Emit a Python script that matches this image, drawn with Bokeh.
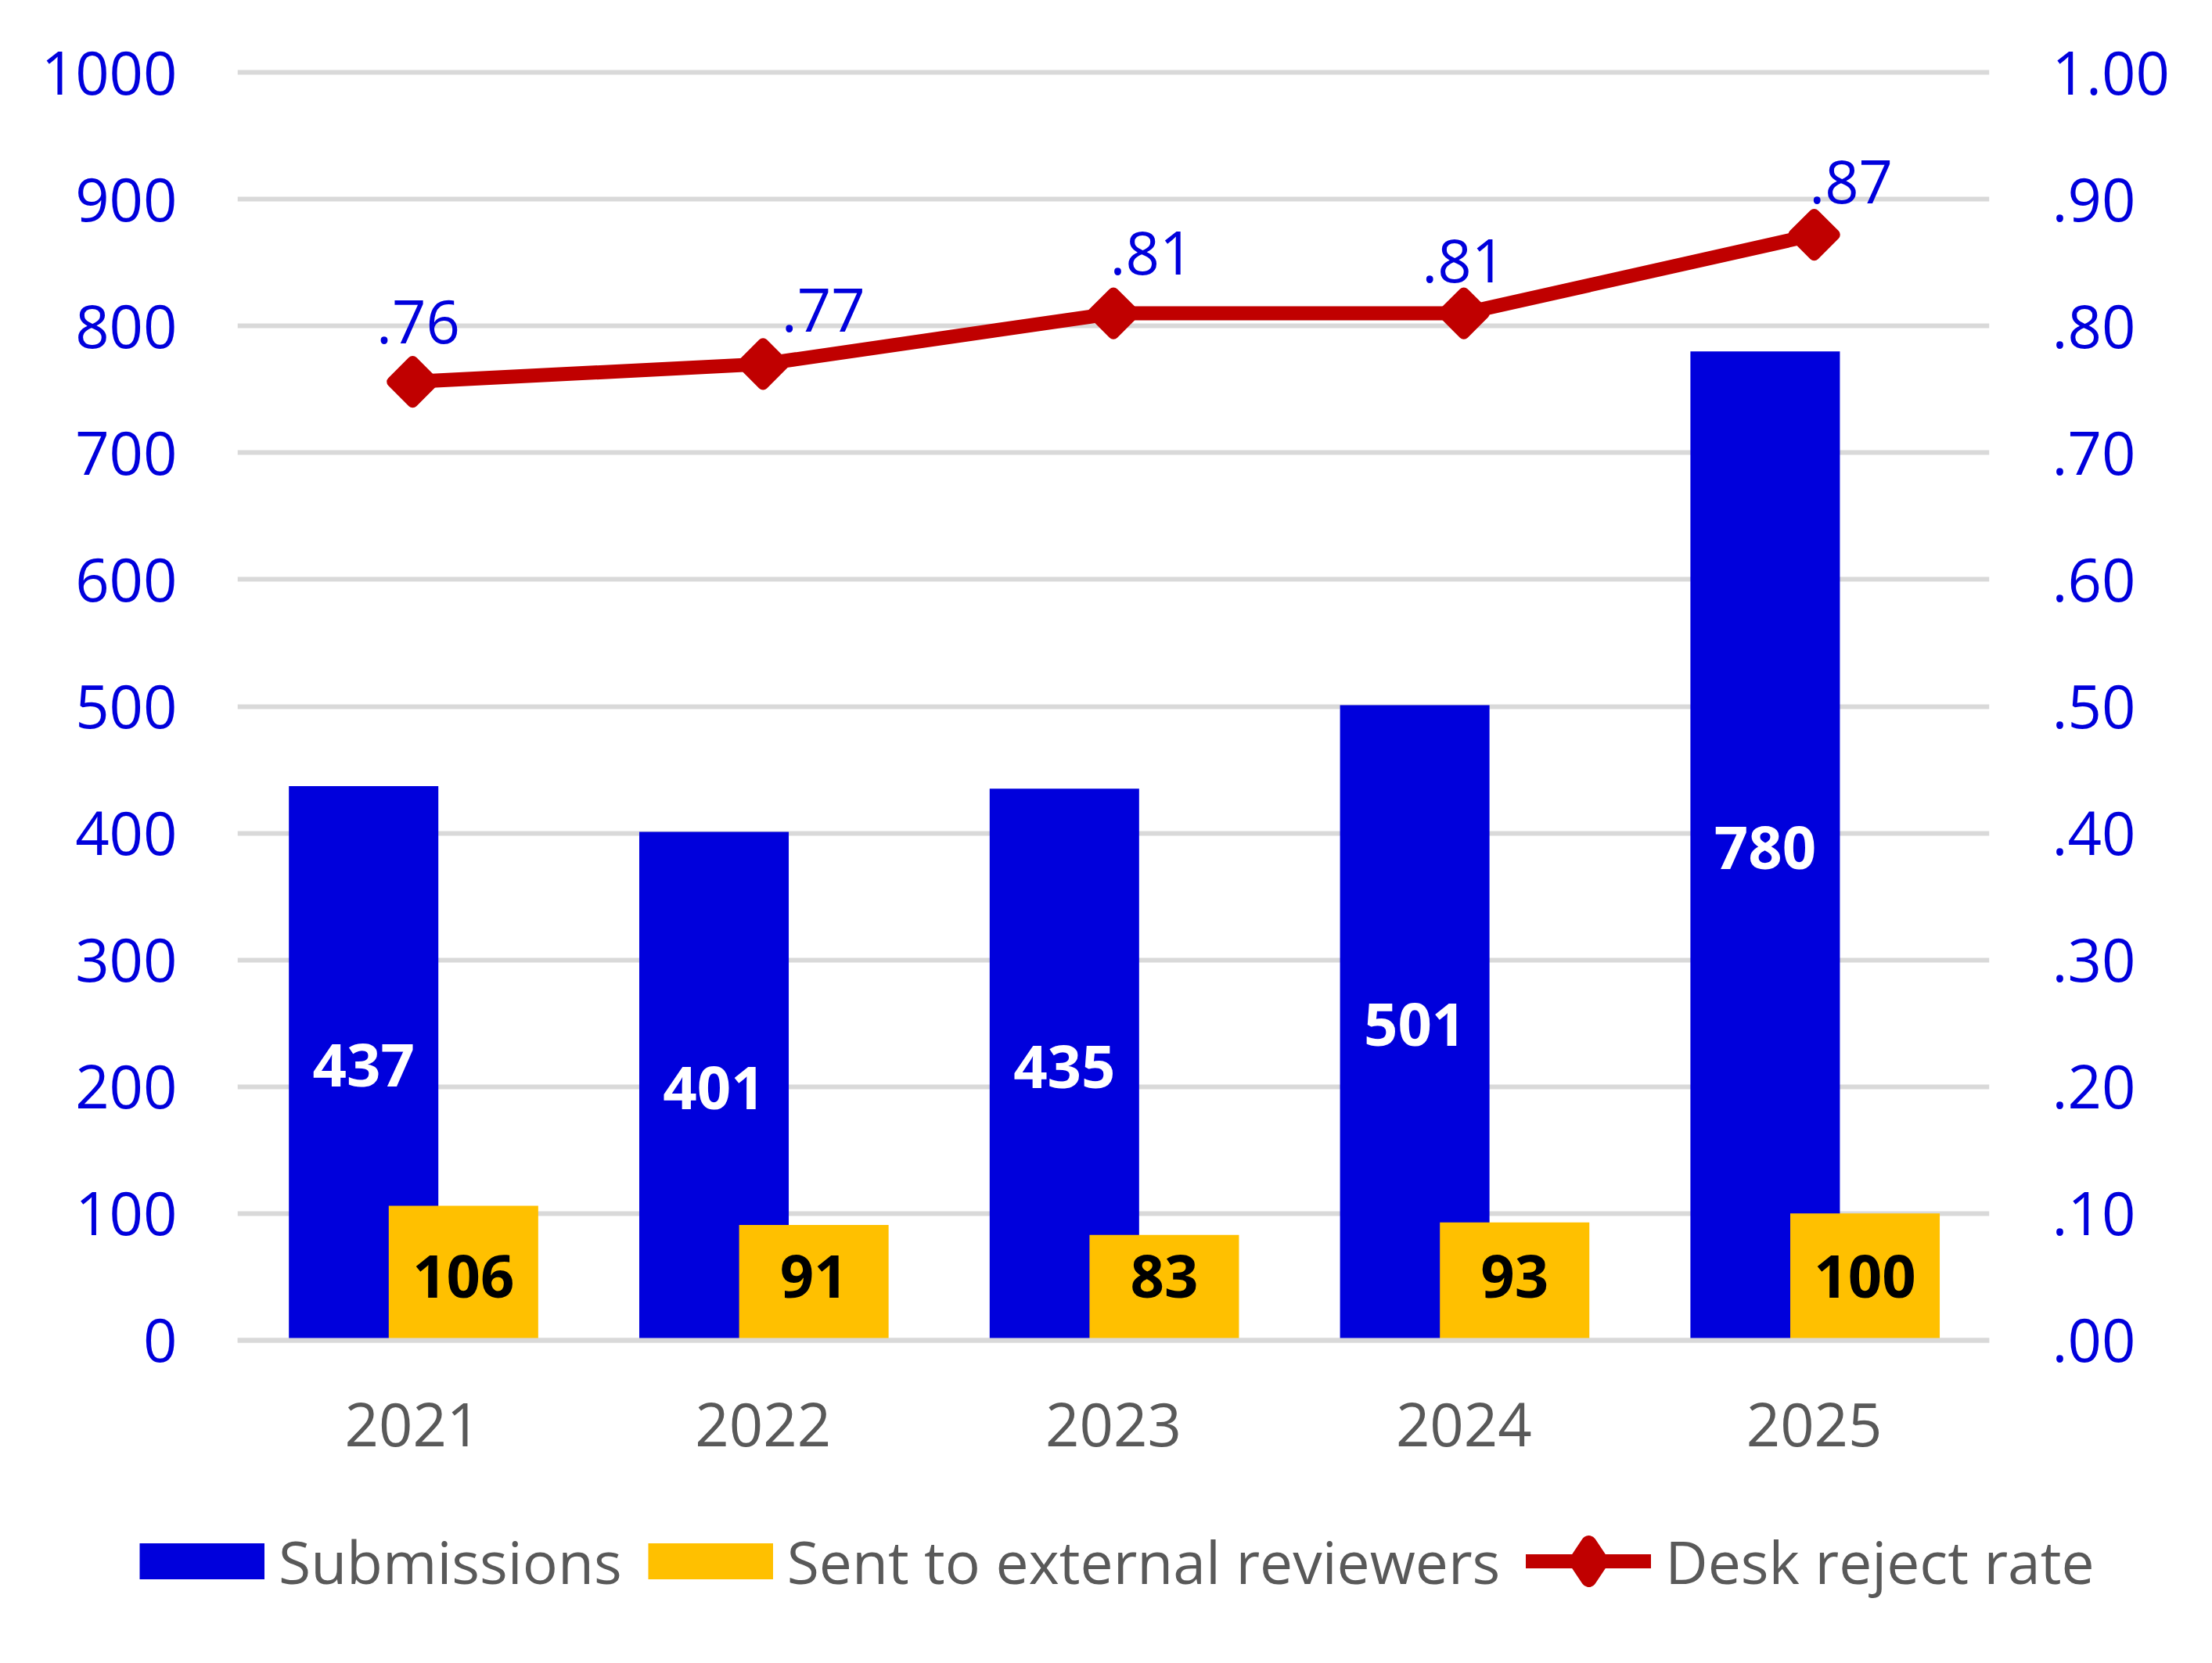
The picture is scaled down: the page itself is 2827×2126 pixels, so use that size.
import math
from bokeh.plotting import figure
from bokeh.layouts import column
from bokeh.models import (ColumnDataSource, FactorRange, Range1d, LinearAxis, FixedTicker,
                          Legend, LegendItem, Span)
from bokeh.transform import dodge
from bokeh.core.properties import value
from bokeh.embed import file_html
from bokeh.resources import INLINE

# ---------------- data ----------------
years = ["2021", "2022", "2023", "2024", "2025"]
submissions = [437, 401, 435, 501, 780]
sent_external = [106, 91, 83, 93, 100]
desk_reject_rate = [0.756, 0.770, 0.810, 0.810, 0.872]

left_ticks = [0, 100, 200, 300, 400, 500, 600, 700, 800, 900, 1000]
right_ticks = [0, 0.1, 0.2, 0.3, 0.4, 0.5, 0.6, 0.7, 0.8, 0.9, 1.0]
right_tick_labels = [".00", ".10", ".20", ".30", ".40", ".50", ".60", ".70", ".80", ".90", "1.00"]

# ---------------- style ----------------
FONT = "Open Sans"
FS = "76px"
BLUE = "#0000DC"
YELLOW = "#FFC000"
RED = "#C00000"
GRAY = "#595959"
GRID = "#D9D9D9"

# label placement tweaks (screen px) for the rate labels
rate_label_dx = [7, 77, 49, 0, 47]
rate_label_dy = [-77, -69, -78, -68, -68]

src = ColumnDataSource(dict(
    year=years,
    sub=submissions,
    sub_mid=[v / 2 for v in submissions],
    sub_txt=[str(v) for v in submissions],
    sent=sent_external,
    zero=[0] * len(years),
    sent_txt=[str(v) for v in sent_external],
    rate=desk_reject_rate,
))
lab_src = ColumnDataSource(dict(
    year=years,
    rate=desk_reject_rate,
    txt=[("%.2f" % v).lstrip("0") for v in desk_reject_rate],
    dx=rate_label_dx,
    dy=rate_label_dy,
))

p = figure(x_range=FactorRange(factors=years, range_padding=0),
           y_range=Range1d(-5, 1005),
           frame_width=2239, frame_height=1637,
           min_border_left=303, min_border_right=269,
           min_border_top=84, min_border_bottom=212,
           output_backend="svg", toolbar_location=None, tools="")
p.frame_align = False
p.extra_y_ranges = {"rate": Range1d(-0.005, 1.005)}
p.outline_line_color = None
p.background_fill_color = "white"
p.border_fill_color = "white"

# grid
p.xgrid.grid_line_color = None
p.ygrid.grid_line_color = GRID
p.ygrid.grid_line_width = 6

# x axis
p.xaxis.axis_line_color = None
p.xaxis.major_tick_line_color = None
p.xaxis.minor_tick_line_color = None
p.xaxis.major_label_text_font = FONT
p.xaxis.major_label_text_font_size = FS
p.xaxis.major_label_text_color = GRAY
p.xaxis.major_label_standoff = 65

# left axis
p.yaxis.ticker = FixedTicker(ticks=left_ticks)
p.yaxis.axis_line_color = None
p.yaxis.major_tick_line_color = None
p.yaxis.minor_tick_line_color = None
p.yaxis.major_label_text_font = FONT
p.yaxis.major_label_text_font_size = FS
p.yaxis.major_label_text_color = BLUE
p.yaxis.major_label_standoff = 71

# right axis
ra = LinearAxis(y_range_name="rate", ticker=FixedTicker(ticks=right_ticks),
                major_label_overrides=dict(zip(right_ticks, right_tick_labels)))
ra.axis_line_color = None
ra.major_tick_line_color = None
ra.minor_tick_line_color = None
ra.major_label_text_font = FONT
ra.major_label_text_font_size = FS
ra.major_label_text_color = BLUE
ra.major_label_standoff = 74
p.add_layout(ra, "right")

# bars
BW = 0.4266
r_sub = p.vbar(x=dodge("year", -0.14, range=p.x_range), top="sub", width=BW,
               source=src, fill_color=BLUE, line_color=None)
r_sent = p.vbar(x=dodge("year", 0.145, range=p.x_range), top="sent", width=BW,
                source=src, fill_color=YELLOW, line_color=None)

# zero baseline drawn over bar bottoms
p.add_layout(Span(location=0, dimension="width", line_color=GRID, line_width=6))

# bar labels
p.text(x=dodge("year", -0.14, range=p.x_range), y="sub_mid", text="sub_txt", source=src,
       text_font=value(FONT), text_font_size=FS, text_font_style="bold",
       text_color="white", text_align="center", text_baseline="alphabetic", y_offset=3)
p.text(x=dodge("year", 0.145, range=p.x_range), y="zero", text="sent_txt", source=src,
       text_font=value(FONT), text_font_size=FS, text_font_style="bold",
       text_color="black", text_align="center", text_baseline="alphabetic", y_offset=-81)

# rate line
r_line = p.line(x="year", y="rate", source=src, y_range_name="rate",
                line_color=RED, line_width=18, line_join="round", line_cap="round")
r_mark = p.scatter(x="year", y="rate", source=src, y_range_name="rate",
                   marker="square", angle=math.pi / 4, size=37,
                   fill_color=RED, line_color=RED, line_width=14, line_join="round")

p.text(x="year", y="rate", text="txt", source=lab_src, y_range_name="rate",
       text_font=value(FONT), text_font_size=FS, text_color=BLUE,
       text_align="center", text_baseline="alphabetic",
       x_offset="dx", y_offset="dy")

# ---------------- legend strip (separate figure below the chart) ----------------
lg = figure(width=2811, height=177, x_range=Range1d(0, 1), y_range=Range1d(0, 1),
            x_axis_type=None, y_axis_type=None, min_border=0,
            output_backend="svg", toolbar_location=None, tools="")
lg.frame_align = False
lg.outline_line_color = None
lg.grid.grid_line_color = None
lg.background_fill_color = "white"
lg.border_fill_color = "white"

# swatch renderers: their data lie outside this strip's ranges, so only the legend shows them
sw_sub = lg.line(x="sub", y="sub", source=src, line_color=BLUE, line_width=46, line_cap="butt")
sw_sent = lg.line(x="sub", y="sub", source=src, line_color=YELLOW, line_width=46, line_cap="butt")
sw_line = lg.line(x="sub", y="sub", source=src, line_color=RED, line_width=18, line_cap="round")
sw_diam = lg.scatter(x="sub", y="sub", source=src, marker="diamond", size=10,
                     fill_color=RED, line_color=RED, line_width=20, line_join="round")

legend = Legend(items=[LegendItem(label="Submissions", renderers=[sw_sub]),
                       LegendItem(label="Sent to external reviewers", renderers=[sw_sent]),
                       LegendItem(label="Desk reject rate", renderers=[sw_line, sw_diam])],
                orientation="horizontal", location=(178, 57),
                glyph_width=160, glyph_height=115, label_standoff=18, spacing=33,
                padding=0, margin=0, border_line_color=None, background_fill_alpha=0,
                label_text_font=FONT, label_text_font_size="75px", label_text_color=GRAY)
lg.add_layout(legend)

layout = column(p, lg, spacing=0)
open("out.html", "w").write(file_html(layout, INLINE))
